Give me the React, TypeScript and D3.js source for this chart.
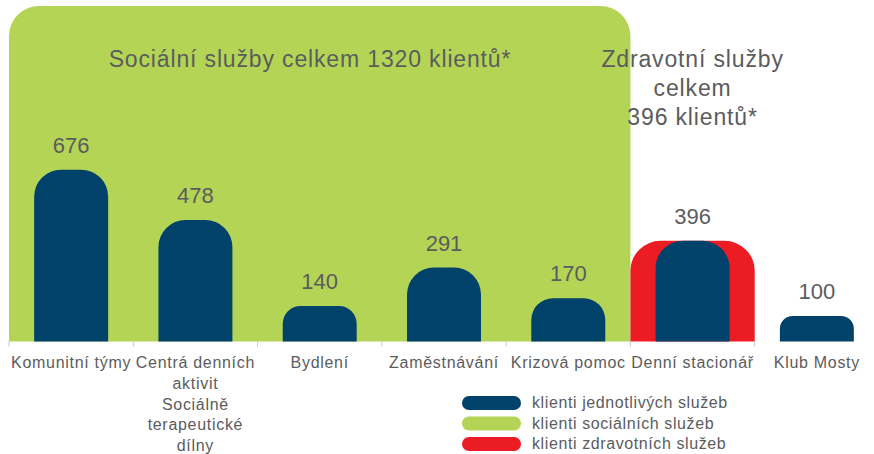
import React from 'react'
import * as d3 from 'd3'

const categories = [
  'Komunitní týmy',
  'Centrá denních aktivit Sociálně terapeutické dílny',
  'Bydlení',
  'Zaměstnávání',
  'Krizová pomoc',
  'Denní stacionář',
  'Klub Mosty',
]
const tickLines = [
  ['Komunitní týmy'],
  ['Centrá denních', 'aktivit', 'Sociálně', 'terapeutické', 'dílny'],
  ['Bydlení'],
  ['Zaměstnávání'],
  ['Krizová pomoc'],
  ['Denní stacionář'],
  ['Klub Mosty'],
]
const clients = [676, 478, 140, 291, 170, 396, 100]

const socialServices = ['Komunitní týmy', 'Centrá denních aktivit Sociálně terapeutické dílny', 'Bydlení', 'Zaměstnávání', 'Krizová pomoc']
const socialTotal = 1320
const healthServices = ['Denní stacionář']
const healthTotal = 396

const socialTitle = ['Sociální služby celkem 1320 klientů*']
const healthTitle = ['Zdravotní služby', 'celkem', '396 klientů*']

const legendLabels = ['klienti jednotlivých služeb', 'klienti sociálních služeb', 'klienti zdravotních služeb']

const NAVY = '#00426a'
const GREEN = '#b4d455'
const RED = '#ec1c24'
const TEXT = '#5b5c5e'
const FONT = '"Liberation Sans", Arial, Helvetica, sans-serif'

const width = 874
const height = 454

// path of a bar with rounded top corners only
function topRounded(x: number, y: number, w: number, h: number, r: number) {
  const rr = Math.min(r, h / 2, w / 2)
  const p = d3.path()
  p.moveTo(x, y + h)
  p.lineTo(x, y + rr)
  p.arcTo(x, y, x + rr, y, rr)
  p.lineTo(x + w - rr, y)
  p.arcTo(x + w, y, x + w, y + rr, rr)
  p.lineTo(x + w, y + h)
  p.closePath()
  return p.toString()
}

export default function App() {
  const x = d3.scaleBand().domain(categories).range([9, 879]).padding(0)
  const y = d3.scaleLinear().domain([0, socialTotal]).range([341.5, 6])
  const bw = x.bandwidth()
  const barW = bw * 0.595

  const sx0 = x(socialServices[0])!
  const sx1 = x(socialServices[socialServices.length - 1])! + bw
  const hx0 = x(healthServices[0])!
  const hx1 = hx0 + bw

  const rows = categories.map((c, i) => ({ c, v: clients[i], lines: tickLines[i] }))

  return (
    <svg width={width} height={height} style={{ position: 'absolute', left: 0, top: 0, fontFamily: FONT }}>
      <rect width={width} height={height} fill='#fff' />

      {/* group totals */}
      <path d={topRounded(sx0, y(socialTotal), sx1 - sx0, y(0) - y(socialTotal), 30)} fill={GREEN} />
      <path d={topRounded(hx0, y(healthTotal), hx1 - hx0, y(0) - y(healthTotal), 30)} fill={RED} />

      {/* individual services */}
      {rows.map(d => {
        const bx = x(d.c)! + (bw - barW) / 2
        return (
          <g key={d.c}>
            <path d={topRounded(bx, y(d.v), barW, y(0) - y(d.v), 27)} fill={NAVY} />
            <text x={x(d.c)! + bw / 2} y={y(d.v) - 17} textAnchor='middle' fontSize={22} fill={TEXT}>
              {d.v}
            </text>
          </g>
        )
      })}

      {/* axis ticks */}
      {categories.map(c => (
        <line key={c} x1={x(c)!} x2={x(c)!} y1={y(0)} y2={y(0) + 5} stroke='#c8c8c8' strokeWidth={1} />
      ))}
      {rows.map(d => (
        <text key={d.c} textAnchor='middle' fontSize={16} letterSpacing={0.7} fill={TEXT}>
          {d.lines.map((l, j) => (
            <tspan key={j} x={x(d.c)! + bw / 2} y={368 + j * 20.8}>{l}</tspan>
          ))}
        </text>
      ))}

      {/* group titles */}
      <text textAnchor='middle' fontSize={23} letterSpacing={0.85} fill={TEXT}>
        {socialTitle.map((l, j) => <tspan key={j} x={310} y={67 + j * 29}>{l}</tspan>)}
      </text>
      <text textAnchor='middle' fontSize={23} letterSpacing={0.85} fill={TEXT}>
        {healthTitle.map((l, j) => <tspan key={j} x={(hx0 + hx1) / 2} y={67 + j * 29}>{l}</tspan>)}
      </text>

      {/* legend */}
      {legendLabels.map((l, i) => (
        <g key={l} transform={`translate(462, ${396 + i * 20.5})`}>
          <rect width={59} height={14} rx={7} fill={[NAVY, GREEN, RED][i]} />
          <text x={70} y={12} fontSize={16} letterSpacing={0.6} fill={TEXT}>{l}</text>
        </g>
      ))}
    </svg>
  )
}
